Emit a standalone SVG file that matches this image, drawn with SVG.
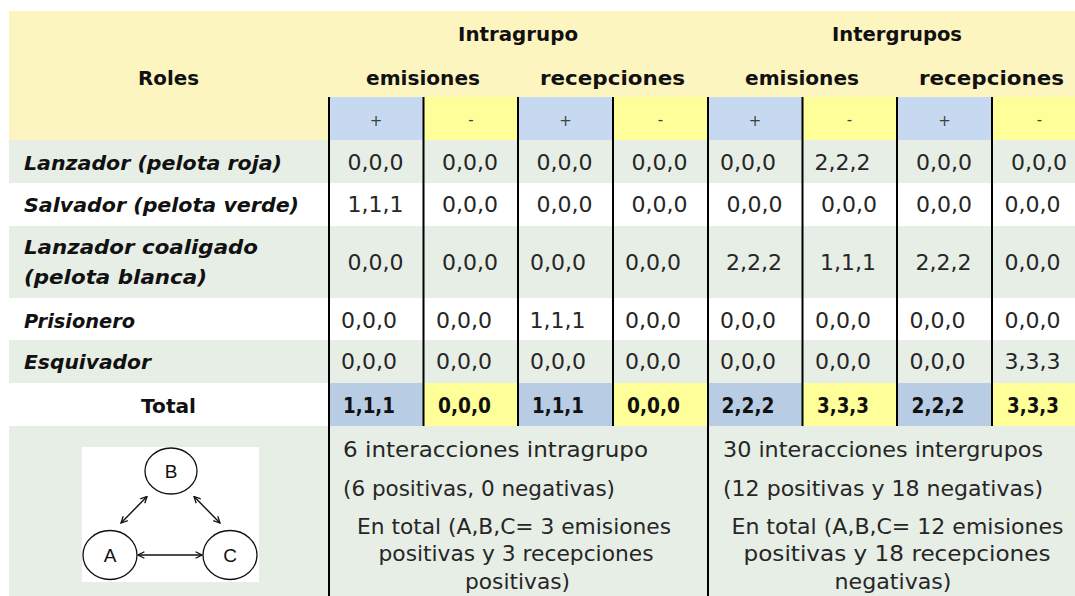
<svg xmlns="http://www.w3.org/2000/svg" width="1075" height="596" viewBox="0 0 1075 596">
<defs>
<style>
.h{font-family:"DejaVu Sans",sans-serif;font-weight:bold;font-size:20px;fill:#111;text-anchor:middle}
.lab{font-family:"DejaVu Sans",sans-serif;font-weight:bold;font-style:italic;font-size:20px;fill:#111}
.n{font-family:"DejaVu Sans",sans-serif;font-size:22px;fill:#262626;text-anchor:middle}
.nb{font-family:"DejaVu Sans",sans-serif;font-weight:bold;font-size:21px;fill:#111;text-anchor:middle}
.pm{font-family:"DejaVu Sans",sans-serif;font-size:15px;fill:#404040;text-anchor:middle}
.t{font-family:"DejaVu Sans",sans-serif;font-size:21px;fill:#262626}
.tc{font-family:"DejaVu Sans",sans-serif;font-size:21px;fill:#262626;text-anchor:middle}
.vl{stroke:#000;stroke-width:2}
.nodeshape{fill:#fff;stroke:#111;stroke-width:1.3}
.nodelabel{font-family:"Liberation Sans",Arial,sans-serif;font-size:19px;fill:#111;text-anchor:middle}
.edge{stroke:#111;stroke-width:1.4;fill:none;marker-start:url(#ah);marker-end:url(#ah)}
</style>
<marker id="ah" viewBox="0 0 10 10" refX="9" refY="5" markerWidth="8" markerHeight="8" markerUnits="userSpaceOnUse" orient="auto-start-reverse">
<path d="M1,1 L9,5 L1,9" fill="none" stroke="#111" stroke-width="1.6"/>
</marker>
</defs>
<rect x="0" y="0" width="1075" height="596" fill="#fff"/>
<g id="backgrounds">
<rect x="9" y="11" width="1066" height="129" fill="#FDF5C0"/>
<rect x="329" y="97" width="94.5" height="43" fill="#C6D9F1"/>
<rect x="423.5" y="97" width="94.5" height="43" fill="#FFFF99"/>
<rect x="518" y="97" width="95" height="43" fill="#C6D9F1"/>
<rect x="613" y="97" width="95" height="43" fill="#FFFF99"/>
<rect x="708" y="97" width="94.5" height="43" fill="#C6D9F1"/>
<rect x="802.5" y="97" width="94.5" height="43" fill="#FFFF99"/>
<rect x="897" y="97" width="95" height="43" fill="#C6D9F1"/>
<rect x="992" y="97" width="83" height="43" fill="#FFFF99"/>
<rect x="9" y="140" width="1066" height="43" fill="#E7EEE6"/>
<rect x="9" y="226" width="1066" height="72" fill="#E7EEE6"/>
<rect x="9" y="340" width="1066" height="43" fill="#E7EEE6"/>
<rect x="329" y="383" width="94.5" height="43" fill="#B8CCE4"/>
<rect x="423.5" y="383" width="94.5" height="43" fill="#FFFF99"/>
<rect x="518" y="383" width="95" height="43" fill="#B8CCE4"/>
<rect x="613" y="383" width="95" height="43" fill="#FFFF99"/>
<rect x="708" y="383" width="94.5" height="43" fill="#B8CCE4"/>
<rect x="802.5" y="383" width="94.5" height="43" fill="#FFFF99"/>
<rect x="897" y="383" width="95" height="43" fill="#B8CCE4"/>
<rect x="992" y="383" width="83" height="43" fill="#FFFF99"/>
<rect x="9" y="426" width="1066" height="170" fill="#E7EEE6"/>
</g>
<g id="gridlines">
<line class="vl" x1="329" y1="97" x2="329" y2="596"/>
<line class="vl" x1="423.5" y1="97" x2="423.5" y2="426"/>
<line class="vl" x1="518" y1="97" x2="518" y2="426"/>
<line class="vl" x1="613" y1="97" x2="613" y2="426"/>
<line class="vl" x1="708" y1="97" x2="708" y2="596"/>
<line class="vl" x1="802.5" y1="97" x2="802.5" y2="426"/>
<line class="vl" x1="897" y1="97" x2="897" y2="426"/>
<line class="vl" x1="992" y1="97" x2="992" y2="426"/>
</g>
<g id="header">
<text class="h" x="518" y="41" textLength="120" lengthAdjust="spacingAndGlyphs">Intragrupo</text>
<text class="h" x="897" y="41" textLength="130" lengthAdjust="spacingAndGlyphs">Intergrupos</text>
<text class="h" x="168.5" y="85" textLength="61" lengthAdjust="spacingAndGlyphs">Roles</text>
<text class="h" x="423" y="85" textLength="114" lengthAdjust="spacingAndGlyphs">emisiones</text>
<text class="h" x="612.5" y="85" textLength="145" lengthAdjust="spacingAndGlyphs">recepciones</text>
<text class="h" x="802" y="85" textLength="114" lengthAdjust="spacingAndGlyphs">emisiones</text>
<text class="h" x="991.5" y="85" textLength="145" lengthAdjust="spacingAndGlyphs">recepciones</text>
<text class="pm" x="376" y="126">+</text>
<text class="pm" x="471" y="125">-</text>
<text class="pm" x="565.5" y="126">+</text>
<text class="pm" x="660.5" y="125">-</text>
<text class="pm" x="755" y="126">+</text>
<text class="pm" x="849.5" y="125">-</text>
<text class="pm" x="944.5" y="126">+</text>
<text class="pm" x="1039.5" y="125">-</text>
</g>
<g id="row-labels">
<text class="lab" x="24" y="170" textLength="258" lengthAdjust="spacingAndGlyphs">Lanzador (pelota roja)</text>
<text class="lab" x="24" y="212" textLength="275" lengthAdjust="spacingAndGlyphs">Salvador (pelota verde)</text>
<text class="lab" x="24" y="254" textLength="234" lengthAdjust="spacingAndGlyphs">Lanzador coaligado</text>
<text class="lab" x="24" y="284" textLength="183" lengthAdjust="spacingAndGlyphs">(pelota blanca)</text>
<text class="lab" x="24" y="328" textLength="111" lengthAdjust="spacingAndGlyphs">Prisionero</text>
<text class="lab" x="24" y="369" textLength="127" lengthAdjust="spacingAndGlyphs">Esquivador</text>
<text class="h" x="168.5" y="413" textLength="55" lengthAdjust="spacingAndGlyphs">Total</text>
</g>
<g id="values">
<text class="n" x="375.5" y="170">0,0,0</text>
<text class="n" x="470" y="170">0,0,0</text>
<text class="n" x="564.5" y="170">0,0,0</text>
<text class="n" x="659.5" y="170">0,0,0</text>
<text class="n" x="748" y="170">0,0,0</text>
<text class="n" x="842.5" y="170">2,2,2</text>
<text class="n" x="944" y="170">0,0,0</text>
<text class="n" x="1039" y="170">0,0,0</text>

<text class="n" x="375.5" y="211.5">1,1,1</text>
<text class="n" x="470" y="211.5">0,0,0</text>
<text class="n" x="564.5" y="211.5">0,0,0</text>
<text class="n" x="659.5" y="211.5">0,0,0</text>
<text class="n" x="754.5" y="211.5">0,0,0</text>
<text class="n" x="849" y="211.5">0,0,0</text>
<text class="n" x="944" y="211.5">0,0,0</text>
<text class="n" x="1032.5" y="211.5">0,0,0</text>

<text class="n" x="375.5" y="270">0,0,0</text>
<text class="n" x="470" y="270">0,0,0</text>
<text class="n" x="558" y="270">0,0,0</text>
<text class="n" x="653" y="270">0,0,0</text>
<text class="n" x="754" y="270">2,2,2</text>
<text class="n" x="848" y="270">1,1,1</text>
<text class="n" x="943.5" y="270">2,2,2</text>
<text class="n" x="1032.5" y="270">0,0,0</text>

<text class="n" x="369" y="327.5">0,0,0</text>
<text class="n" x="464" y="327.5">0,0,0</text>
<text class="n" x="557.5" y="327.5">1,1,1</text>
<text class="n" x="653" y="327.5">0,0,0</text>
<text class="n" x="748" y="327.5">0,0,0</text>
<text class="n" x="843" y="327.5">0,0,0</text>
<text class="n" x="937.5" y="327.5">0,0,0</text>
<text class="n" x="1032.5" y="327.5">0,0,0</text>

<text class="n" x="369" y="369">0,0,0</text>
<text class="n" x="464" y="369">0,0,0</text>
<text class="n" x="558" y="369">0,0,0</text>
<text class="n" x="653" y="369">0,0,0</text>
<text class="n" x="748" y="369">0,0,0</text>
<text class="n" x="843" y="369">0,0,0</text>
<text class="n" x="937.5" y="369">0,0,0</text>
<text class="n" x="1032.5" y="369">3,3,3</text>

<text class="nb" x="369" y="413" textLength="52" lengthAdjust="spacingAndGlyphs">1,1,1</text>
<text class="nb" x="464.5" y="413" textLength="53" lengthAdjust="spacingAndGlyphs">0,0,0</text>
<text class="nb" x="558" y="413" textLength="52" lengthAdjust="spacingAndGlyphs">1,1,1</text>
<text class="nb" x="653.5" y="413" textLength="53" lengthAdjust="spacingAndGlyphs">0,0,0</text>
<text class="nb" x="748" y="413" textLength="53" lengthAdjust="spacingAndGlyphs">2,2,2</text>
<text class="nb" x="843" y="413" textLength="52" lengthAdjust="spacingAndGlyphs">3,3,3</text>
<text class="nb" x="938" y="413" textLength="53" lengthAdjust="spacingAndGlyphs">2,2,2</text>
<text class="nb" x="1033" y="413" textLength="52" lengthAdjust="spacingAndGlyphs">3,3,3</text>
</g>
<g id="summary-intra">
<text class="t" x="343" y="457" textLength="305" lengthAdjust="spacingAndGlyphs">6 interacciones intragrupo</text>
<text class="t" x="343" y="496" textLength="272" lengthAdjust="spacingAndGlyphs">(6 positivas, 0 negativas)</text>
<text class="tc" x="514" y="534" textLength="314" lengthAdjust="spacingAndGlyphs">En total (A,B,C= 3 emisiones</text>
<text class="tc" x="516" y="561" textLength="275" lengthAdjust="spacingAndGlyphs">positivas y 3 recepciones</text>
<text class="tc" x="517.5" y="589" textLength="105" lengthAdjust="spacingAndGlyphs">positivas)</text>
</g>
<g id="summary-inter">
<text class="t" x="723" y="457" textLength="320" lengthAdjust="spacingAndGlyphs">30 interacciones intergrupos</text>
<text class="t" x="723" y="496" textLength="320" lengthAdjust="spacingAndGlyphs">(12 positivas y 18 negativas)</text>
<text class="tc" x="897.5" y="534" textLength="332" lengthAdjust="spacingAndGlyphs">En total (A,B,C= 12 emisiones</text>
<text class="tc" x="897" y="561" textLength="307" lengthAdjust="spacingAndGlyphs">positivas y 18 recepciones</text>
<text class="tc" x="893" y="589" textLength="117" lengthAdjust="spacingAndGlyphs">negativas)</text>
</g>
<rect id="diagram-box" x="82" y="447" width="177" height="135" fill="#fff"/>
<g id="connectors">
<line class="edge" x1="121" y1="523" x2="147" y2="496.5"/>
<line class="edge" x1="194" y1="496.5" x2="220" y2="523"/>
<line class="edge" x1="138" y1="555" x2="202" y2="555"/>
</g>
<g id="node-B">
<ellipse class="nodeshape" cx="171" cy="471" rx="26" ry="23"/>
<text class="nodelabel" x="171" y="478">B</text>
</g>
<g id="node-A">
<ellipse class="nodeshape" cx="110" cy="555" rx="27" ry="24.5"/>
<text class="nodelabel" x="110" y="562">A</text>
</g>
<g id="node-C">
<ellipse class="nodeshape" cx="230" cy="555" rx="27" ry="24.5"/>
<text class="nodelabel" x="230" y="562">C</text>
</g>
</svg>
